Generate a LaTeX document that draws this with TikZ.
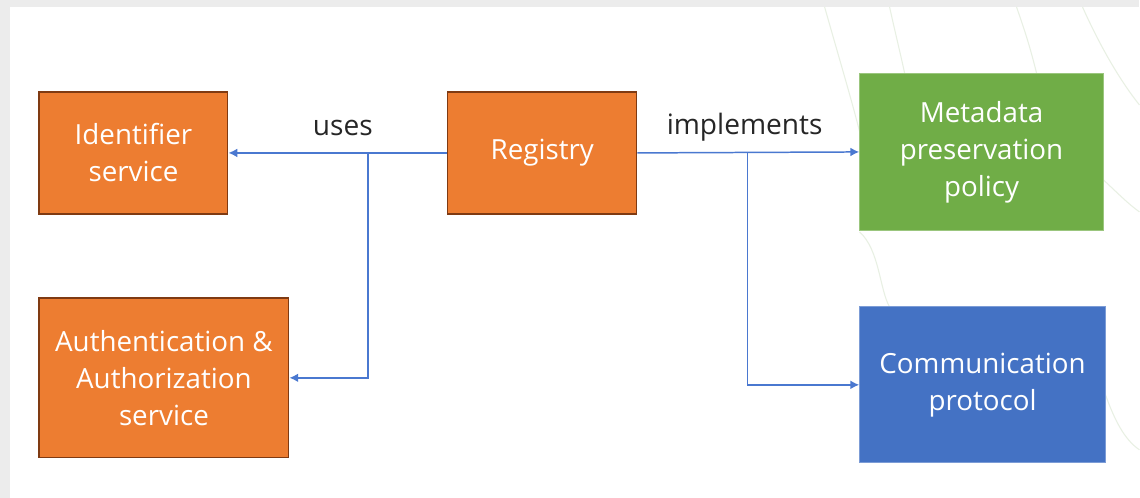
\documentclass[tikz,border=0pt]{standalone}
\usepackage{fontspec}
\setmainfont{Open Sans}
\usetikzlibrary{arrows.meta}
\definecolor{naranja}{HTML}{ED7D31}
\definecolor{bordenaranja}{HTML}{7F3A12}
\definecolor{verde}{HTML}{70AD47}
\definecolor{azul}{HTML}{4472C4}
\definecolor{enlace}{HTML}{4A78D0}
\definecolor{marco}{HTML}{ECECEC}
\definecolor{arco}{HTML}{E8F0E3}
\definecolor{rotulo}{HTML}{262626}
\tikzset{
	caja/.style={rectangle, text=white, align=center, inner sep=0pt,
		font=\fontsize{15.8}{21}\selectfont},
	cajanaranja/.style={caja, fill=naranja, draw=bordenaranja, line width=0.7pt},
	cajaverde/.style={caja, fill=verde, draw=verde!70!white, line width=0.5pt},
	cajaazul/.style={caja, fill=azul, draw=azul!70!white, line width=0.5pt},
	flecha/.style={draw=enlace, line width=0.85pt, -{Latex[length=5pt,width=5pt]}},
	rotulo/.style={text=rotulo, font=\fontsize{16}{18}\selectfont},
	fondo/.style={draw=arco, line width=0.6pt}
}
\begin{document}
\begin{tikzpicture}[x=0.02cm, y=-0.02cm]
	\fill [marco] (0,0) rectangle (1140,498);
	\fill [white] (10,7) rectangle (1140,498);
	\draw [fondo] (825,7) .. controls (840,60) and (855,110) .. (862,140);
	\draw [fondo] (890,7) .. controls (895,30) and (900,50) .. (905,73);
	\draw [fondo] (1017,7) .. controls (1025,30) and (1030,45) .. (1037,73);
	\draw [fondo] (1083,7) .. controls (1100,45) and (1120,80) .. (1140,105);
	\draw [fondo] (1104,180) .. controls (1120,195) and (1130,205) .. (1140,212);
	\draw [fondo] (860,232) .. controls (880,250) and (880,290) .. (890,307);
	\draw [fondo] (1106,395) .. controls (1115,420) and (1125,440) .. (1140,450);

	\node [cajanaranja, minimum width=3.78cm, minimum height=2.44cm] (identificador) at (133.5,153) {Identifier\\service};
	\node [cajanaranja, minimum width=3.78cm, minimum height=2.44cm] (registro) at (542.5,153) {Registry};
	\node [cajanaranja, minimum width=5cm, minimum height=3.2cm] (autenticacion) at (164,378) {Authentication \&\\Authorization\\service};
	\node [cajaverde, minimum width=4.88cm, minimum height=3.16cm] (metadatos) at (982,152) {Metadata\\preservation\\policy};
	\node [cajaazul, minimum width=4.92cm, minimum height=3.12cm] (comunicacion) at (983,385) {Communication\\protocol};

	\coordinate (usa) at (368,153);
	\coordinate (implementa) at (748,153);
	\draw [flecha] (registro.west) -- (identificador.east);
	\draw [flecha] (usa) |- (autenticacion.east);
	\draw [flecha] (registro.east) -- (metadatos.west);
	\draw [flecha] (implementa) |- (comunicacion.west);
	\node [rotulo] (usos) at (343,128) {uses};
	\node [rotulo] (implementos) at (745,127) {implements};
\end{tikzpicture}
\end{document}
